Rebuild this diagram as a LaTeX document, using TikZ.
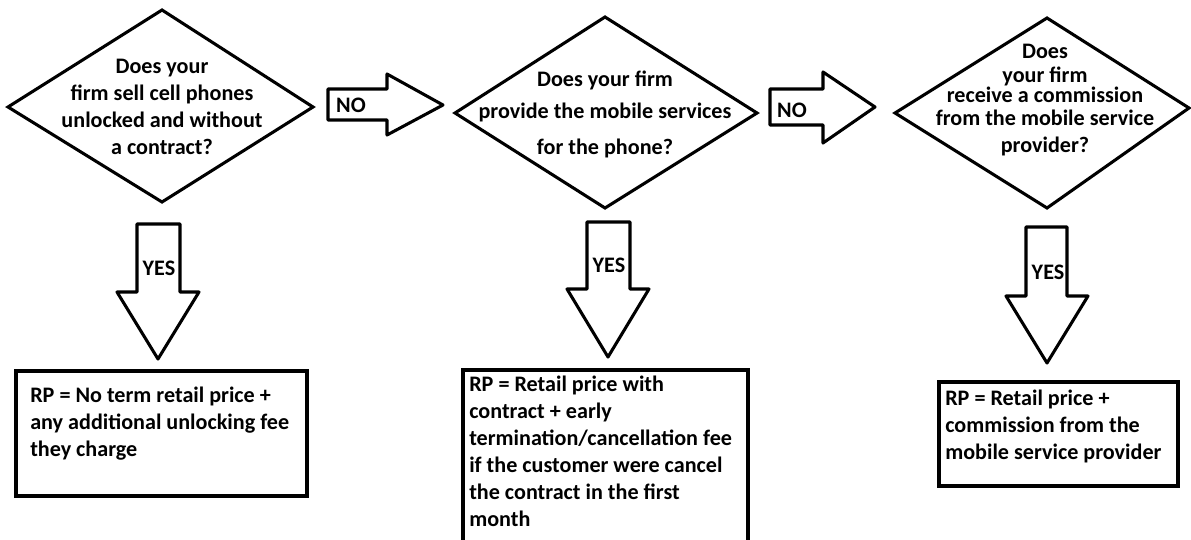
\documentclass[tikz,border=0pt]{standalone}
\usepackage{fontspec}
\setmainfont{Carlito}
\usepackage{tikz}
\usepackage{xcolor}

\begin{document}
\begin{tikzpicture}[x=0.75pt,y=0.75pt,yscale=-1,xscale=1,
  qline/.style={line width=2.3pt, line join=miter},
  blockarrow/.style={line width=2.3pt, line join=round},
  rpbox/.style={line width=3pt},
  txt/.style={inner sep=0pt, font=\bfseries\fontsize{16.6}{20.25}\selectfont}]
%set diagram left start at 0, and has height of 539
\useasboundingbox (0,0) rectangle (1191,539);

%Shape: Diamond [id:q1]
\draw [qline] (8,107) -- (162,10) -- (313,107) -- (162,202) -- cycle ;
%Shape: Diamond [id:q2]
\draw [qline] (455,113) -- (605,17) -- (757,113) -- (605,208) -- cycle ;
%Shape: Diamond [id:q3]
\draw [qline] (895,113) -- (1047,18) -- (1189,108) -- (1047,208) -- cycle ;

%Shape: Right Arrow [id:no1]
\draw [blockarrow] (328,89) -- (387,89) -- (387,74) -- (443,105) -- (387,135) -- (387,120) -- (328,120) -- cycle ;
%Shape: Right Arrow [id:no2]
\draw [blockarrow] (770,89) -- (823,89) -- (823,72) -- (875,107) -- (823,143) -- (823,125) -- (770,125) -- cycle ;

%Shape: Down Arrow [id:yes1]
\draw [blockarrow] (137,224) -- (180,224) -- (180,292) -- (199,292) -- (158,359) -- (117,292) -- (137,292) -- cycle ;
%Shape: Down Arrow [id:yes2]
\draw [blockarrow] (587,222) -- (630,222) -- (630,289) -- (649,289) -- (608,357) -- (567,289) -- (587,289) -- cycle ;
%Shape: Down Arrow [id:yes3]
\draw [blockarrow] (1026,227) -- (1067,227) -- (1067,296) -- (1088,296) -- (1047,363) -- (1006,296) -- (1026,296) -- cycle ;

%Shape: Rectangle [id:rp1]
\draw [rpbox] (16,371) rectangle (307,496) ;
%Shape: Rectangle [id:rp2] (runs off the bottom)
\draw [rpbox] (463,541) -- (463,370) -- (748,370) -- (748,541) ;
%Shape: Rectangle [id:rp3]
\draw [rpbox] (939,382) rectangle (1178,486) ;

% Text Node
\node [txt, align=center] (q1text) at (162,107) {Does your\\firm sell cell phones\\unlocked and without\\a contract?};
% Text Node
\node [txt, align=center] (q2text) at (605,114) {Does your firm\\[3.75pt]provide the mobile services\\[6.75pt]for the phone?};
% Text Node
\node [txt, align=center] (q3text) at (1045,100) {Does\\[-2.25pt]your firm\\[-5.25pt]receive a commission\\[-3pt]from the mobile service\\provider?};

% Text Node
\node [txt] (nolabel1) at (351,105) {NO};
% Text Node
\node [txt] (nolabel2) at (792,110) {NO};
% Text Node
\node [txt] (yeslabel1) at (159,268) {YES};
% Text Node
\node [txt] (yeslabel2) at (609,265) {YES};
% Text Node
\node [txt] (yeslabel3) at (1048,272) {YES};

% Text Node
\node [txt, align=left, anchor=north west] (rp1text) at (30,387) {RP = No term retail price +\\any additional unlocking fee\\they charge};
% Text Node
\node [txt, align=left, anchor=north west] (rp2text) at (469,376) {RP = Retail price with\\contract + early\\termination/cancellation fee\\if the customer were cancel\\the contract in the first\\month};
% Text Node
\node [txt, align=left, anchor=north west] (rp3text) at (945,390) {RP = Retail price +\\commission from the\\mobile service provider};

\end{tikzpicture}
\end{document}
